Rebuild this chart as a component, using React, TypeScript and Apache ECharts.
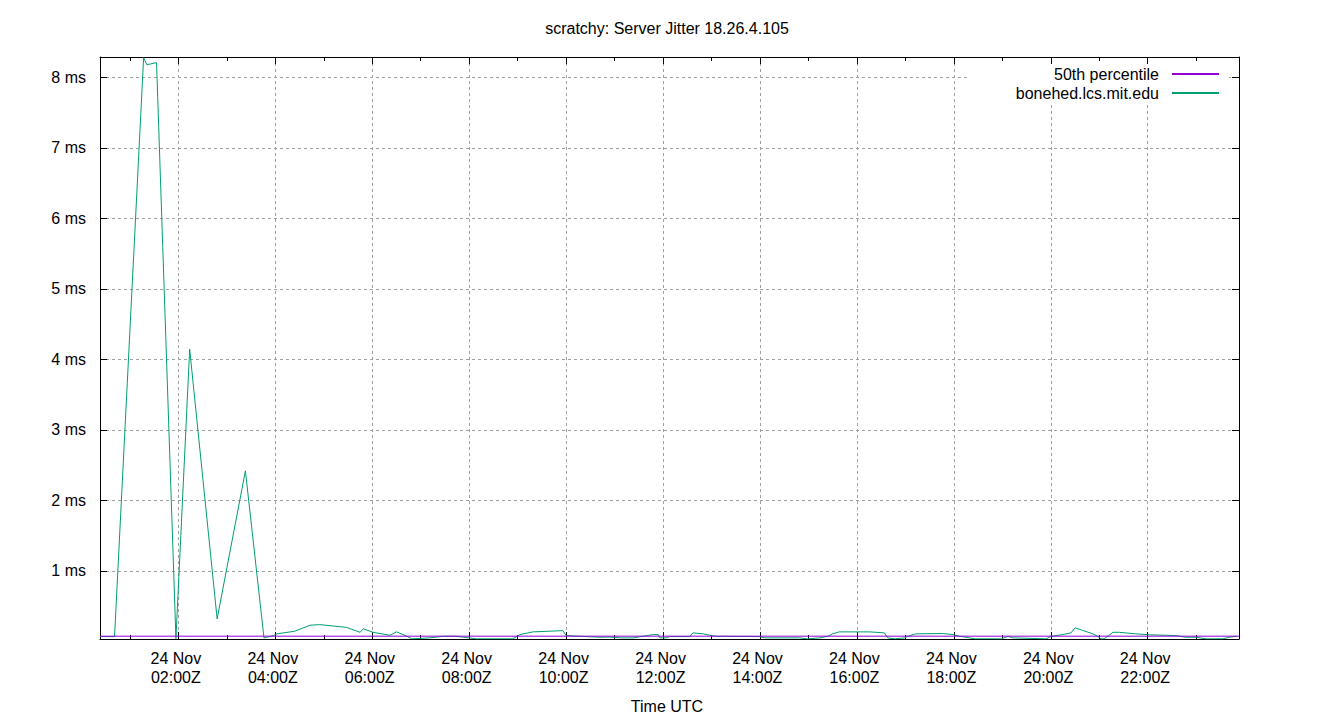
import React, { useEffect, useRef } from "react";
import * as echarts from "echarts";

const TITLE = "scratchy: Server Jitter 18.26.4.105";
const X_NAME = "Time UTC";
const DAY_LABEL = "24 Nov";
const X_MIN = "00:23";
const X_MAX = "23:53";
const Y_MIN = 0.035;
const Y_MAX = 8.29;
const Y_TICKS = [1, 2, 3, 4, 5, 6, 7, 8];
const MAJOR_HOURS = [2, 4, 6, 8, 10, 12, 14, 16, 18, 20, 22];
const MINOR_HOURS = [1, 3, 5, 7, 9, 11, 13, 15, 17, 19, 21, 23];

const P50_NAME = "50th percentile";
const P50_TIMES = ["00:23", "23:53"];
const P50_VALUES = [0.075, 0.075];

const HOST_NAME = "bonehed.lcs.mit.edu";
const HOST_TIMES = [
  "00:23", "00:41", "01:17", "01:21", "01:33", "01:57", "02:14", "02:48", "03:23", "03:46",
  "03:58", "04:02", "04:24", "04:43", "04:55", "05:28", "05:45", "05:49", "06:01", "06:22",
  "06:30", "06:43", "06:49", "07:11", "07:28", "07:44", "08:09", "08:54", "09:03", "09:19",
  "09:56", "10:00", "10:42", "10:54", "11:08", "11:23", "11:35", "11:48", "11:54", "11:56",
  "12:04", "12:08", "12:33", "12:37", "12:50", "12:58", "13:06", "13:59", "14:06", "14:49",
  "14:59", "15:14", "15:24", "15:30", "15:38", "16:16", "16:34", "16:38", "16:47", "16:59",
  "17:03", "17:13", "17:46", "17:59", "18:07", "18:15", "18:26", "18:59", "19:07", "19:13",
  "19:54", "20:00", "20:15", "20:25", "20:30", "20:39", "20:52", "20:58", "21:02", "21:06",
  "21:17", "21:25", "21:45", "22:02", "22:35", "22:47", "23:00", "23:12", "23:33", "23:41",
  "23:50",
];
const HOST_VALUES = [
  0.069, 0.069, 8.28, 8.18, 8.21, 0.041, 4.146, 0.32, 2.42, 0.051,
  0.084, 0.108, 0.145, 0.23, 0.239, 0.2, 0.13, 0.18, 0.13, 0.088,
  0.136, 0.074, 0.037, 0.051, 0.074, 0.074, 0.037, 0.037, 0.098, 0.136,
  0.154, 0.084, 0.06, 0.062, 0.051, 0.051, 0.074, 0.098, 0.098, 0.051,
  0.051, 0.069, 0.069, 0.122, 0.108, 0.088, 0.074, 0.069, 0.051, 0.051,
  0.037, 0.051, 0.074, 0.108, 0.136, 0.136, 0.122, 0.051, 0.037, 0.051,
  0.074, 0.108, 0.113, 0.098, 0.074, 0.06, 0.037, 0.037, 0.074, 0.051,
  0.037, 0.074, 0.098, 0.122, 0.193, 0.159, 0.108, 0.074, 0.037, 0.037,
  0.13, 0.13, 0.108, 0.095, 0.084, 0.06, 0.06, 0.037, 0.037, 0.06,
  0.074,
];

const toH = (s: string) => {
  const [h, m] = s.split(":").map(Number);
  return h + m / 60;
};
const pad = (n: number) => String(n).padStart(2, "0");

const FONT = "'Liberation Sans', Arial, sans-serif";
const FS = 16;

export default function App() {
  const ref = useRef<HTMLDivElement>(null);
  useEffect(() => {
    if (!ref.current) return;
    const chart = echarts.init(ref.current, null, { renderer: "svg" });
    const xmin = toH(X_MIN);
    const xmax = toH(X_MAX);
    const black = { color: "#000", width: 1 };
    const baseX = {
      type: "value",
      min: xmin,
      max: xmax,
      axisLine: { show: false, onZero: false },
      axisLabel: { show: false },
      splitLine: { show: false },
    };
    const baseY = {
      type: "value",
      min: Y_MIN,
      max: Y_MAX,
      axisLine: { show: false, onZero: false },
      axisLabel: { show: false },
      splitLine: { show: false },
    };
    chart.setOption({
      animation: false,
      backgroundColor: "#fff",
      title: {
        text: TITLE,
        left: 667,
        textAlign: "center",
        top: 20,
        padding: 0,
        textStyle: { fontFamily: FONT, fontSize: FS, fontWeight: "normal", color: "#000" },
      },
      legend: {
        orient: "vertical",
        align: "right",
        right: 111,
        top: 64,
        padding: [2, 9, 1, 46],
        itemWidth: 47,
        itemHeight: 14,
        itemGap: 3,
        backgroundColor: "#fff",
        itemStyle: { opacity: 0 },
        textStyle: { fontFamily: FONT, fontSize: FS, color: "#000", padding: [0, 8, 0, 0] },
        data: [P50_NAME, HOST_NAME],
      },
      grid: { left: 100, right: 101, top: 57, bottom: 81, containLabel: false },
      xAxis: [
        {
          ...baseX,
          position: "bottom",
          axisLine: { show: true, onZero: false, lineStyle: black },
          axisTick: { show: true, inside: true, length: 7, customValues: MAJOR_HOURS, lineStyle: black },
          axisLabel: {
            show: true,
            customValues: MAJOR_HOURS,
            margin: 10,
            fontFamily: FONT,
            fontSize: FS,
            lineHeight: 19,
            color: "#000",
            padding: [0, 5, 0, 0],
            formatter: (v: number) => `${DAY_LABEL}\n${pad(Math.round(v))}:00Z`,
          },
          splitLine: { show: true, lineStyle: { color: "#a0a0a0", width: 1, type: [3, 3] } },
          name: X_NAME,
          nameLocation: "middle",
          nameGap: 59,
          nameTextStyle: { fontFamily: FONT, fontSize: FS, color: "#000", padding: [0, 5, 0, 0] },
        },
        {
          ...baseX,
          position: "bottom",
          axisTick: { show: true, inside: true, length: 4, customValues: MINOR_HOURS, lineStyle: black },
        },
        {
          ...baseX,
          position: "top",
          axisLine: { show: true, onZero: false, lineStyle: black },
          axisTick: { show: true, inside: true, length: 7, customValues: MAJOR_HOURS, lineStyle: black },
        },
        {
          ...baseX,
          position: "top",
          axisTick: { show: true, inside: true, length: 4, customValues: MINOR_HOURS, lineStyle: black },
        },
      ],
      yAxis: [
        {
          ...baseY,
          position: "left",
          axisLine: { show: true, onZero: false, lineStyle: black },
          axisTick: { show: true, inside: true, length: 7, customValues: Y_TICKS, lineStyle: black },
          axisLabel: {
            show: true,
            customValues: Y_TICKS,
            margin: 14,
            fontFamily: FONT,
            fontSize: FS,
            color: "#000",
            formatter: (v: number) => `${v} ms`,
          },
          splitLine: { show: true, lineStyle: { color: "#a0a0a0", width: 1, type: [3, 3] } },
        },
        {
          ...baseY,
          position: "right",
          axisLine: { show: true, onZero: false, lineStyle: black },
          axisTick: { show: true, inside: true, length: 7, customValues: Y_TICKS, lineStyle: black },
        },
      ],
      series: [
        {
          name: P50_NAME,
          type: "line",
          xAxisIndex: 0,
          yAxisIndex: 0,
          symbol: "none",
          z: 3,
          lineStyle: { color: "#9400d3", width: 1 },
          itemStyle: { color: "#9400d3" },
          data: P50_TIMES.map((t, i) => [toH(t), P50_VALUES[i]]),
        },
        {
          name: HOST_NAME,
          type: "line",
          xAxisIndex: 0,
          yAxisIndex: 0,
          symbol: "none",
          z: 2,
          lineStyle: { color: "#009e73", width: 1 },
          itemStyle: { color: "#009e73" },
          data: HOST_TIMES.map((t, i) => [toH(t), HOST_VALUES[i]]),
        },
      ],
    });
    return () => chart.dispose();
  }, []);
  return <div ref={ref} style={{ width: 1340, height: 720, position: "absolute", left: 0, top: 0 }} />;
}
